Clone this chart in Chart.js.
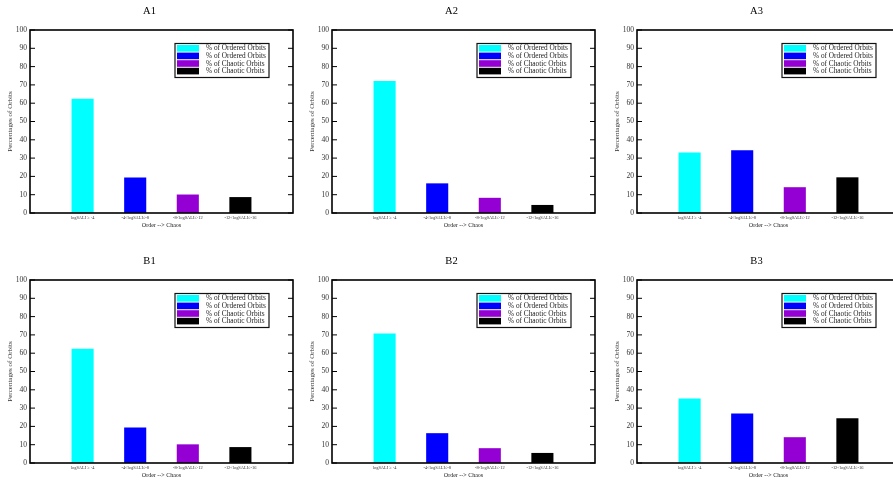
<!DOCTYPE html>
<html>
<head>
<meta charset="utf-8">
<title>Orbit percentages</title>
<script src="https://cdn.jsdelivr.net/npm/chart.js@4.4.0/dist/chart.umd.min.js"></script>
<style>
  html, body { margin: 0; padding: 0; background: #fff; overflow: hidden; width: 893px; height: 485px; }
  .panel { position: absolute; width: 300px; height: 245px; }
  canvas { display: block; }
</style>
</head>
<body>
<div class="panel" style="left:0px;top:0px"><canvas id="A1" width="300" height="245"></canvas></div>
<div class="panel" style="left:302px;top:0px"><canvas id="A2" width="300" height="245"></canvas></div>
<div class="panel" style="left:607px;top:0px"><canvas id="A3" width="300" height="245"></canvas></div>
<div class="panel" style="left:0px;top:250px"><canvas id="B1" width="300" height="245"></canvas></div>
<div class="panel" style="left:302px;top:250px"><canvas id="B2" width="300" height="245"></canvas></div>
<div class="panel" style="left:607px;top:250px"><canvas id="B3" width="300" height="245"></canvas></div>

<script>
// categories on the x axis (order -> chaos)
const categories = ['logSALI ≥ -4', '-4<logSALI≤-8', '-8<logSALI≤-12', '-12<logSALI≤-16'];
const seriesNames = ['% of Ordered Orbits', '% of Ordered Orbits', '% of Chaotic Orbits', '% of Chaotic Orbits'];
const yTicks = [0, 10, 20, 30, 40, 50, 60, 70, 80, 90, 100];

// percentages per panel
const valuesA1 = [62.4, 19.4, 10.1, 8.7];
const valuesA2 = [72.1, 16.2, 8.3, 4.4];
const valuesA3 = [33.0, 34.3, 14.1, 19.5];
const valuesB1 = [62.4, 19.4, 10.2, 8.7];
const valuesB2 = [70.8, 16.3, 8.1, 5.5];
const valuesB3 = [35.3, 27.0, 14.1, 24.4];

const colors = ['#00ffff', '#0000ff', '#9400d3', '#000000'];

Chart.defaults.font.family = "'Liberation Serif', 'DejaVu Serif', serif";
Chart.defaults.color = '#333';

// frame round the plot and small inward ticks on both sides
const framePlugin = {
    id: 'frame',
    afterDatasetsDraw(chart) {
        const { ctx, chartArea: a, scales: { y } } = chart;
        ctx.save();
        ctx.strokeStyle = '#000';
        ctx.lineWidth = 1;
        y.ticks.forEach(t => {
            const py = y.getPixelForValue(t.value);
            ctx.beginPath();
            ctx.moveTo(a.left, py);
            ctx.lineTo(a.left + 5, py);
            ctx.moveTo(a.right, py);
            ctx.lineTo(a.right - 5, py);
            ctx.stroke();
        });
        ctx.lineWidth = 1.6;
        ctx.strokeRect(a.left, a.top, a.right - a.left, a.bottom - a.top);
        ctx.restore();
    }
};

// boxed legend inside the plot, top right
const boxLegendPlugin = {
    id: 'boxLegend',
    afterDraw(chart) {
        const { ctx, chartArea: a } = chart;
        const w = 94, h = 34;
        const right = a.right - 24;
        const left = right - w;
        const top = a.top + 13.5;
        ctx.save();
        ctx.fillStyle = '#fff';
        ctx.fillRect(left, top, w, h);
        chart.data.datasets.forEach((ds, i) => {
            const ry = top + 1.5 + i * 7.6;
            ctx.fillStyle = ds.backgroundColor;
            ctx.fillRect(left + 2, ry, 22, 6.6);
            ctx.fillStyle = '#222';
            ctx.font = "7.3px 'Liberation Serif', serif";
            ctx.textBaseline = 'middle';
            ctx.textAlign = 'left';
            ctx.fillText(ds.label, left + 31, ry + 3.5);
        });
        ctx.strokeStyle = '#111';
        ctx.lineWidth = 1.2;
        ctx.strokeRect(left, top, w, h);
        ctx.restore();
    }
};

function makePanel(id, title, values) {
    // empty slots at both ends so the bars sit at 1..4 on a 0..5 axis
    const labels = ['', ...categories, ''];
    const datasets = seriesNames.map((name, i) => ({
        label: name,
        data: labels.map((_, j) => (j === i + 1 ? values[i] : null)),
        backgroundColor: colors[i],
        borderWidth: 0,
        categoryPercentage: 1,
        barPercentage: 0.42
    }));

    new Chart(document.getElementById(id), {
        type: 'bar',
        data: { labels, datasets },
        options: {
            responsive: false,
            animation: false,
            layout: { padding: { left: 6, right: 7, top: 0, bottom: 15.5 } },
            plugins: {
                legend: { display: false },
                tooltip: { enabled: false },
                title: {
                    display: true,
                    text: title,
                    color: '#000',
                    font: { size: 10.5, weight: 'normal' },
                    padding: { top: 5, bottom: 12.4 }
                }
            },
            scales: {
                x: {
                    stacked: true,
                    offset: false,
                    grid: { display: false, drawTicks: false },
                    border: { display: false },
                    ticks: {
                        autoSkip: false,
                        maxRotation: 0,
                        padding: 2,
                        color: '#333',
                        font: { size: 4.4 }
                    },
                    title: {
                        display: true,
                        text: 'Order --> Chaos',
                        color: '#222',
                        padding: 0,
                        font: { size: 6 }
                    },
                    afterFit: s => { s.height = 16.5; }
                },
                y: {
                    stacked: true,
                    min: yTicks[0],
                    max: yTicks[yTicks.length - 1],
                    grid: { display: false, drawTicks: false },
                    border: { display: false },
                    afterBuildTicks: s => { s.ticks = yTicks.map(v => ({ value: v })); },
                    ticks: {
                        padding: 3,
                        color: '#333',
                        font: { size: 7.5 }
                    },
                    title: {
                        display: true,
                        text: 'Percentages of Orbits',
                        color: '#333',
                        padding: 0,
                        font: { size: 7 }
                    },
                    afterFit: s => { s.width = 24; }
                }
            }
        },
        plugins: [framePlugin, boxLegendPlugin]
    });
}

makePanel('A1', 'A1', valuesA1);
makePanel('A2', 'A2', valuesA2);
makePanel('A3', 'A3', valuesA3);
makePanel('B1', 'B1', valuesB1);
makePanel('B2', 'B2', valuesB2);
makePanel('B3', 'B3', valuesB3);
</script>
</body>
</html>
